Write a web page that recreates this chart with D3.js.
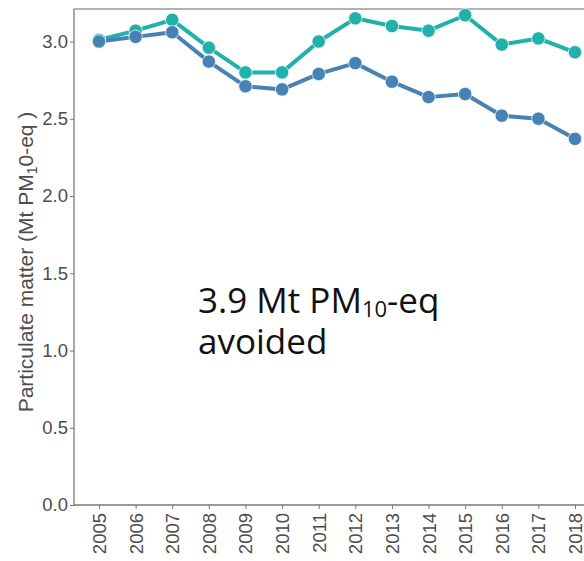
<!DOCTYPE html>
<html>
<head>
<meta charset="utf-8">
<script src="https://cdn.jsdelivr.net/npm/d3@7"></script>
<style>
  body { margin: 0; background: #fff; }
  svg { display: block; }
</style>
</head>
<body>
<script>
var width = 584,
    height = 561;

// data
var years = [2005, 2006, 2007, 2008, 2009, 2010, 2011, 2012, 2013, 2014, 2015, 2016, 2017, 2018];
var withoutSeries = [3.01, 3.07, 3.14, 2.96, 2.80, 2.80, 3.00, 3.15, 3.10, 3.07, 3.17, 2.98, 3.02, 2.93];
var actualSeries = [3.00, 3.03, 3.06, 2.87, 2.71, 2.69, 2.79, 2.86, 2.74, 2.64, 2.66, 2.52, 2.50, 2.37];
var yTicks = [0, 0.5, 1.0, 1.5, 2.0, 2.5, 3.0];

// panel edges (don't call it "top", that's window.top)
var panelLeft = 74, panelTop = 9, panelBottom = 505;

var svg = d3.select("body")
    .append("svg")
    .attr("width", width)
    .attr("height", height);

var x = d3.scalePoint()
    .domain(years)
    .range([99, 575]);

var y = d3.scaleLinear()
    .domain([0, 3.21])
    .range([panelBottom, panelBottom - 3.21 * 154.5]);

// top border of the panel
svg.append("line")
    .attr("x1", panelLeft).attr("x2", width)
    .attr("y1", panelTop).attr("y2", panelTop)
    .attr("stroke", "#999").attr("stroke-width", 1.3);

var yAxis = svg.append("g")
    .attr("transform", "translate(" + panelLeft + ",0)")
    .call(d3.axisLeft(y).tickValues(yTicks).tickFormat(d3.format(".1f")).tickSize(4).tickPadding(2));

var xAxis = svg.append("g")
    .attr("transform", "translate(0," + panelBottom + ")")
    .call(d3.axisBottom(x).tickSize(4).tickPadding(4));

[yAxis, xAxis].forEach(function(g){
    g.select(".domain").attr("stroke", "#777").attr("stroke-width", 1.3);
    g.selectAll(".tick line").attr("stroke", "#777");
    g.selectAll("text")
        .attr("fill", "#4d4d4d")
        .style("font-family", "'Liberation Sans', Arial, sans-serif")
        .style("font-size", "18.5px");
});
yAxis.select(".domain").attr("d", "M0," + panelBottom + "V" + panelTop);
xAxis.select(".domain").attr("d", "M" + panelLeft + ",0H" + width);

xAxis.selectAll("text")
    .attr("transform", "rotate(-90)")
    .attr("text-anchor", "end")
    .attr("x", -8)
    .attr("y", 0)
    .attr("dy", "0.35em");

// y axis title
var yTitle = svg.append("text")
    .attr("transform", "translate(32.5,262) rotate(-90)")
    .attr("text-anchor", "middle")
    .attr("fill", "#4d4d4d")
    .style("font-family", "'Liberation Sans', Arial, sans-serif")
    .style("font-size", "21px");
yTitle.append("tspan").text("Particulate matter (Mt PM");
yTitle.append("tspan").attr("baseline-shift", "-30%").style("font-size", "14px").text("1");
yTitle.append("tspan").text("0-eq )");

var line = d3.line()
    .x(function(d, i){ return x(years[i]); })
    .y(function(d){ return y(d); });

var seriesList = [
    {values: withoutSeries, color: "#20b2aa"},
    {values: actualSeries, color: "#4682b4"}
];

seriesList.forEach(function(s){
    svg.append("path")
        .datum(s.values)
        .attr("d", line)
        .attr("fill", "none")
        .attr("stroke", s.color)
        .attr("stroke-width", 4)
        .attr("stroke-linejoin", "round");
});
seriesList.forEach(function(s){
    svg.append("g").selectAll("circle")
        .data(s.values)
        .enter().append("circle")
        .attr("cx", function(d, i){ return x(years[i]); })
        .attr("cy", function(d){ return y(d); })
        .attr("r", 6.7)
        .attr("fill", s.color)
        .attr("stroke", "#fff")
        .attr("stroke-opacity", 0.7)
        .attr("stroke-width", 1);
});

// annotation, two lines in one text
var note = svg.append("text")
    .attr("fill", "#111")
    .style("font-family", "'Open Sans', sans-serif")
    .style("font-size", "35px");
var l1 = note.append("tspan").attr("x", 198).attr("y", 313);
l1.append("tspan").text("3.9 Mt PM");
l1.append("tspan").attr("baseline-shift", "-20%").style("font-size", "22px").text("10");
l1.append("tspan").text("-eq");
note.append("tspan").attr("x", 198).attr("y", 354).text("avoided");
</script>
</body>
</html>
